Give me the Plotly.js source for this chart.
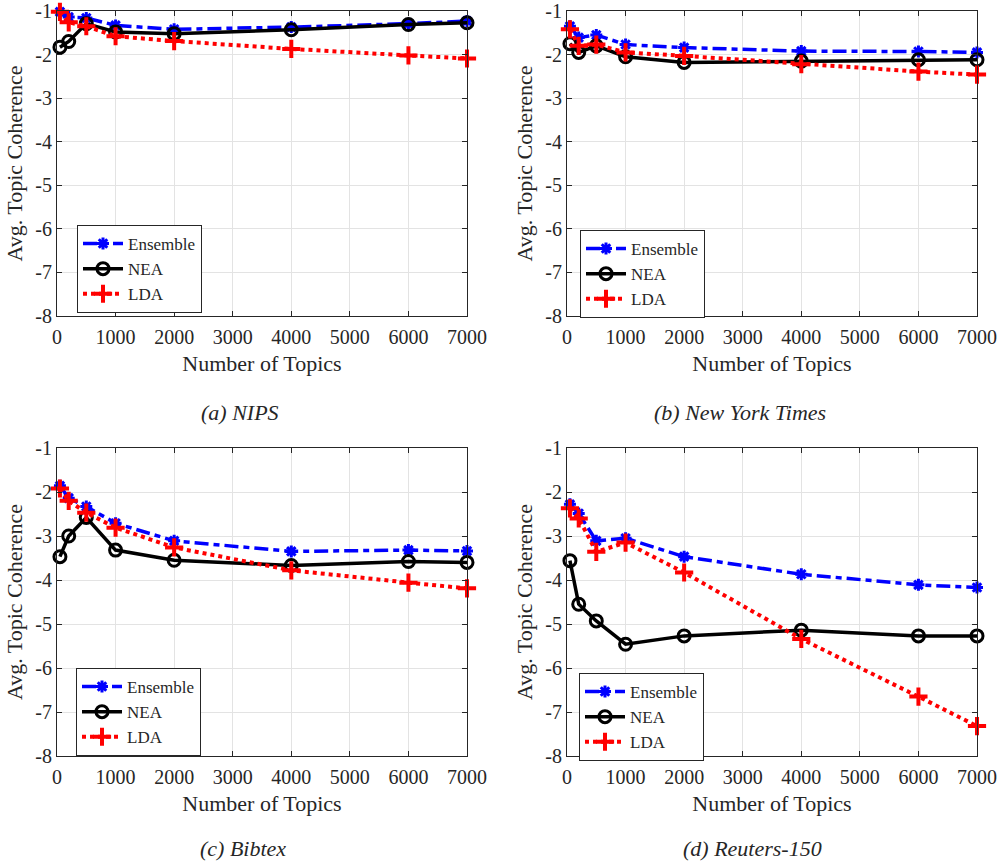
<!DOCTYPE html>
<html>
<head>
<meta charset="utf-8">
<script src="https://cdn.plot.ly/plotly-3.0.1.min.js"></script>
<style>html,body{margin:0;padding:0;background:#fff;}#chart{width:1004px;height:862px;}</style>
</head>
<body>
<div id="chart"></div>
<script>
// ---- data ----
const xTopics = [50, 200, 500, 1000, 2000, 4000, 6000, 7000];
const seriesNames = ['Ensemble', 'NEA', 'LDA'];

const nipsEnsemble = [-1.02, -1.14, -1.16, -1.33, -1.42, -1.37, -1.29, -1.23];
const nipsNEA      = [-1.83, -1.70, -1.29, -1.48, -1.52, -1.43, -1.31, -1.27];
const nipsLDA      = [-1.02, -1.26, -1.35, -1.58, -1.69, -1.87, -2.02, -2.09];

const nytEnsemble = [-1.35, -1.61, -1.55, -1.77, -1.84, -1.92, -1.93, -1.95];
const nytNEA      = [-1.75, -1.95, -1.80, -2.05, -2.18, -2.15, -2.12, -2.12];
const nytLDA      = [-1.42, -1.80, -1.77, -1.95, -2.03, -2.22, -2.39, -2.46];

const bibEnsemble = [-1.86, -2.14, -2.33, -2.71, -3.11, -3.35, -3.32, -3.34];
const bibNEA      = [-3.47, -3.00, -2.58, -3.32, -3.55, -3.67, -3.58, -3.60];
const bibLDA      = [-1.92, -2.20, -2.47, -2.81, -3.26, -3.78, -4.06, -4.19];

const reuEnsemble = [-2.28, -2.49, -3.11, -3.05, -3.47, -3.87, -4.11, -4.17];
const reuNEA      = [-3.56, -4.55, -4.93, -5.46, -5.27, -5.14, -5.27, -5.27];
const reuLDA      = [-2.37, -2.60, -3.36, -3.15, -3.83, -5.34, -6.65, -7.32];

const xTickVals = [0, 1000, 2000, 3000, 4000, 5000, 6000, 7000];
const xTickText = ['0', '1000', '2000', '3000', '4000', '5000', '6000', '7000'];
const yTickVals = [-8, -7, -6, -5, -4, -3, -2, -1];
const yTickText = ['-8', '-7', '-6', '-5', '-4', '-3', '-2', '-1'];

const captions = ['(a) NIPS', '(b) New York Times', '(c) Bibtex', '(d) Reuters-150'];
const xTitle = 'Number of Topics';
const yTitle = 'Avg. Topic Coherence';

// ---- styling ----
const FONT = 'Liberation Serif, Times New Roman, serif';
const INK = '#262626';
const panels = [
  {ens: nipsEnsemble, nea: nipsNEA, lda: nipsLDA},
  {ens: nytEnsemble, nea: nytNEA, lda: nytLDA},
  {ens: bibEnsemble, nea: bibNEA, lda: bibLDA},
  {ens: reuEnsemble, nea: reuNEA, lda: reuLDA}
];

const W = 1004, H = 862;
const xDomains = [[57 / W, 467 / W], [567 / W, 977 / W]];
const yDomains = [[1 - 316 / H, 1 - 11 / H], [1 - 756 / H, 1 - 448 / H]];
const legendPos = [[77, 225], [580, 230], [76, 668], [579, 673]];
const captionPos = [[240, 413], [740, 413], [243, 848], [752, 848]];

const traces = [];
const layout = {
  width: W, height: H,
  margin: {l: 0, r: 0, t: 0, b: 0},
  paper_bgcolor: '#ffffff',
  plot_bgcolor: '#ffffff',
  font: {family: FONT, color: INK, size: 20},
  annotations: []
};

panels.forEach((p, i) => {
  const col = i % 2, row = Math.floor(i / 2);
  const sfx = i === 0 ? '' : String(i + 1);
  const xa = 'x' + sfx, ya = 'y' + sfx;
  const lg = 'legend' + sfx;

  traces.push({
    x: xTopics, y: p.ens, xaxis: xa, yaxis: ya, legend: lg,
    name: seriesNames[0], mode: 'lines+markers', cliponaxis: false,
    line: {color: '#0000ff', width: 3.5, dash: '14px,5px,6px,5px'},
    marker: {symbol: 'asterisk-open', size: 10, color: '#0000ff', line: {color: '#0000ff', width: 3}}
  });
  traces.push({
    x: xTopics, y: p.nea, xaxis: xa, yaxis: ya, legend: lg,
    name: seriesNames[1], mode: 'lines+markers', cliponaxis: false,
    line: {color: '#000000', width: 3.5},
    marker: {symbol: 'circle-open', size: 12, color: '#000000', line: {color: '#000000', width: 3}}
  });
  traces.push({
    x: xTopics, y: p.lda, xaxis: xa, yaxis: ya, legend: lg,
    name: seriesNames[2], mode: 'lines+markers', cliponaxis: false,
    line: {color: '#ff0000', width: 4, dash: 'dot'},
    marker: {symbol: 'cross-thin-open', size: 13, color: '#ff0000', line: {color: '#ff0000', width: 4}}
  });

  const axCommon = {
    showline: true, linecolor: INK, linewidth: 1, mirror: 'ticks',
    ticks: 'inside', ticklen: 5, tickcolor: INK, tickwidth: 1,
    showgrid: true, gridcolor: '#e3e3e3', gridwidth: 1, zeroline: false,
    tickfont: {family: FONT, size: 20, color: INK},
    ticklabeloverflow: 'allow',
    automargin: false, fixedrange: true
  };
  layout['xaxis' + sfx] = Object.assign({}, axCommon, {
    domain: xDomains[col], anchor: ya, range: [0, 7000],
    tickmode: 'array', tickvals: xTickVals, ticktext: xTickText,
    ticklabelstandoff: 3,
    title: {text: xTitle, font: {family: FONT, size: 22, color: INK}, standoff: 8}
  });
  layout['yaxis' + sfx] = Object.assign({}, axCommon, {
    domain: yDomains[row], anchor: xa, range: [-8, -1],
    tickmode: 'array', tickvals: yTickVals, ticktext: yTickText,
    title: {text: yTitle, font: {family: FONT, size: 22, color: INK}, standoff: 6}
  });
  layout[lg] = {
    x: legendPos[i][0] / W, y: 1 - legendPos[i][1] / H,
    xanchor: 'left', yanchor: 'top', xref: 'paper', yref: 'paper',
    bgcolor: '#ffffff', bordercolor: INK, borderwidth: 1,
    font: {family: FONT, size: 17, color: INK},
    itemwidth: 40, tracegroupgap: 0
  };
  layout.annotations.push({
    text: captions[i], xref: 'paper', yref: 'paper',
    x: captionPos[i][0] / W, y: 1 - captionPos[i][1] / H,
    xanchor: 'center', yanchor: 'middle', showarrow: false,
    font: {family: FONT, size: 22, color: INK, style: 'italic'}
  });
});

Plotly.newPlot('chart', traces, layout, {displayModeBar: false, staticPlot: true});
</script>
</body>
</html>
